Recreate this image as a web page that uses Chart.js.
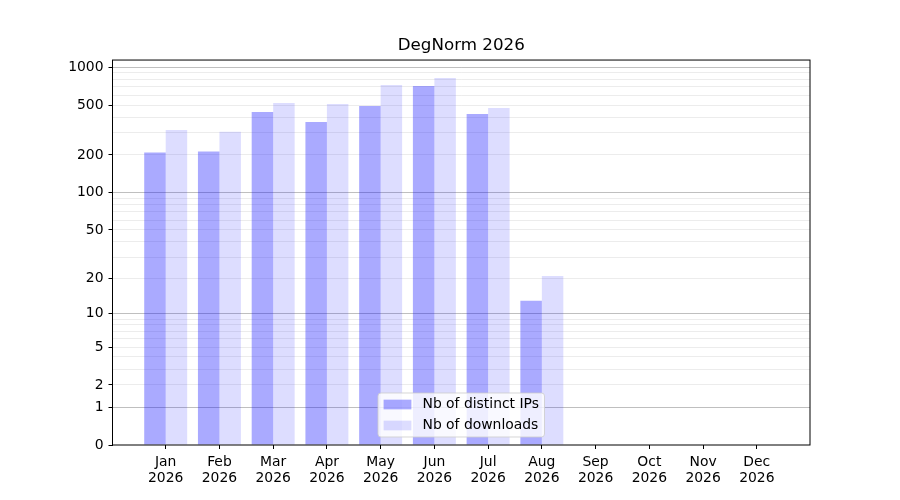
<!DOCTYPE html>
<html>
<head>
<meta charset="utf-8">
<script src="https://cdn.jsdelivr.net/npm/chart.js@4/dist/chart.umd.min.js"></script>
<style>
  html, body { margin: 0; padding: 0; background: #fff; }
</style>
</head>
<body>
<canvas id="myChart" width="900" height="500"></canvas>
<script>
// data
const months = ['Jan', 'Feb', 'Mar', 'Apr', 'May', 'Jun', 'Jul', 'Aug', 'Sep', 'Oct', 'Nov', 'Dec'];
const year = '2026';
const distinctIps = [209, 213, 441, 367, 492, 710, 425, 13, 0, 0, 0, 0];
const downloads = [317, 306, 520, 510, 722, 822, 474, 21, 0, 0, 0, 0];

// y axis (log10(1 + x) scale)
const yTickLabels = [0, 1, 2, 5, 10, 20, 50, 100, 200, 500, 1000];
const yMajorGrid = [1, 10, 100, 1000];
const yMinorGrid = [3, 4, 6, 7, 8, 9, 30, 40, 60, 70, 80, 90, 300, 400, 600, 700, 800, 900];
const yMax = 1140;
const xMargin = 0.99;

const log1p = v => Math.log10(1 + v);

class Log1pScale extends Chart.LinearScale {
  determineDataLimits() {
    this.min = this.options.min;
    this.max = this.options.max;
  }
  buildTicks() {
    const values = yTickLabels.concat(yMinorGrid).sort((a, b) => a - b);
    return values.map(v => ({ value: v }));
  }
  configure() {
    super.configure();
    this._startValue = log1p(this.min);
    this._valueRange = log1p(this.max) - log1p(this.min);
  }
  getPixelForValue(value) {
    return this.getPixelForDecimal((log1p(value) - this._startValue) / this._valueRange);
  }
  getValueForPixel(pixel) {
    return Math.pow(10, this._startValue + this.getDecimalForPixel(pixel) * this._valueRange) - 1;
  }
}
Log1pScale.id = 'log1p';
Log1pScale.defaults = {};
Chart.register(Log1pScale);

// box round the plot, like matplotlib spines
const framePlugin = {
  id: 'frame',
  afterDatasetsDraw(chart) {
    const { ctx, chartArea: a } = chart;
    ctx.save();
    ctx.strokeStyle = '#000';
    ctx.lineWidth = 1;
    ctx.strokeRect(a.left, a.top, a.right - a.left, a.bottom - a.top);
    ctx.restore();
  }
};

// legend inside the plot, lower center
const legendPlugin = {
  id: 'boxLegend',
  afterDraw(chart) {
    const { ctx, chartArea: a } = chart;
    const items = chart.data.datasets;
    ctx.save();
    ctx.font = '13.9px "DejaVu Sans"';
    const textW = Math.max(...items.map(d => ctx.measureText(d.label).width));
    const pad = 5.6, handleW = 27.8, handleH = 9.7, gap = 11.1, rowH = 21;
    const w = pad * 2 + handleW + gap + textW;
    const h = 44;
    const x = (a.left + a.right) / 2 - w / 2;
    const y = a.bottom - 8 - h;
    ctx.beginPath();
    ctx.roundRect(x, y, w, h, 3);
    ctx.fillStyle = 'rgba(255,255,255,0.8)';
    ctx.fill();
    ctx.strokeStyle = 'rgba(204,204,204,0.8)';
    ctx.lineWidth = 1;
    ctx.stroke();
    items.forEach(function(d, i) {
      const cy = y + 11.5 + i * rowH;
      ctx.fillStyle = d.backgroundColor;
      ctx.fillRect(x + pad, cy - handleH / 2, handleW, handleH);
      ctx.fillStyle = '#000';
      ctx.textBaseline = 'middle';
      ctx.textAlign = 'left';
      ctx.fillText(d.label, x + pad + handleW + gap, cy);
    });
    ctx.restore();
  }
};

Chart.defaults.font.family = '"DejaVu Sans"';
Chart.defaults.font.size = 13.9;
Chart.defaults.color = '#000';

const ctx = document.getElementById('myChart').getContext('2d');
const myChart = new Chart(ctx, {
  type: 'bar',
  data: {
    labels: months.map(m => [m, year]),
    datasets: [{
      label: 'Nb of distinct IPs',
      data: distinctIps,
      backgroundColor: 'rgba(0, 0, 255, 0.333)',
      categoryPercentage: 0.8,
      barPercentage: 1.0
    }, {
      label: 'Nb of downloads',
      data: downloads,
      backgroundColor: 'rgba(0, 0, 255, 0.133)',
      categoryPercentage: 0.8,
      barPercentage: 1.0
    }]
  },
  options: {
    responsive: false,
    animation: false,
    layout: { padding: { left: 0, right: 90, top: 0, bottom: 0 } },
    plugins: {
      legend: { display: false },
      tooltip: { enabled: false },
      title: {
        display: true,
        fullSize: false,
        text: 'DegNorm 2026',
        color: '#000',
        font: { size: 16.7, weight: 'normal', lineHeight: 1.2 },
        padding: { top: 35.3, bottom: 4.7 }
      }
    },
    scales: {
      x: {
        afterBuildTicks(scale) {
          scale._startValue = -xMargin;
          scale._valueRange = months.length - 1 + 2 * xMargin;
        },
        afterFit(scale) { scale.height = 55; },
        border: { display: false },
        grid: { drawOnChartArea: false, offset: false, tickColor: '#000', tickLength: 4 },
        ticks: { padding: 5, maxRotation: 0, autoSkip: false, font: { lineHeight: 1.15 } }
      },
      y: {
        type: 'log1p',
        min: 0,
        max: yMax,
        afterFit(scale) { scale.width = 112.5; },
        border: { display: false },
        grid: {
          color: c => c.tick.value === 0 ? 'rgba(0,0,0,0)' :
            yMajorGrid.includes(c.tick.value) ? 'rgba(0,0,0,0.25)' : 'rgba(0,0,0,0.075)',
          tickColor: c => yTickLabels.includes(c.tick.value) ? '#000' : 'rgba(0,0,0,0)',
          tickLength: 4,
          lineWidth: 1
        },
        ticks: {
          autoSkip: false,
          padding: 5,
          callback: v => yTickLabels.includes(v) ? String(v) : ''
        }
      }
    }
  },
  plugins: [framePlugin, legendPlugin]
});
</script>
</body>
</html>
